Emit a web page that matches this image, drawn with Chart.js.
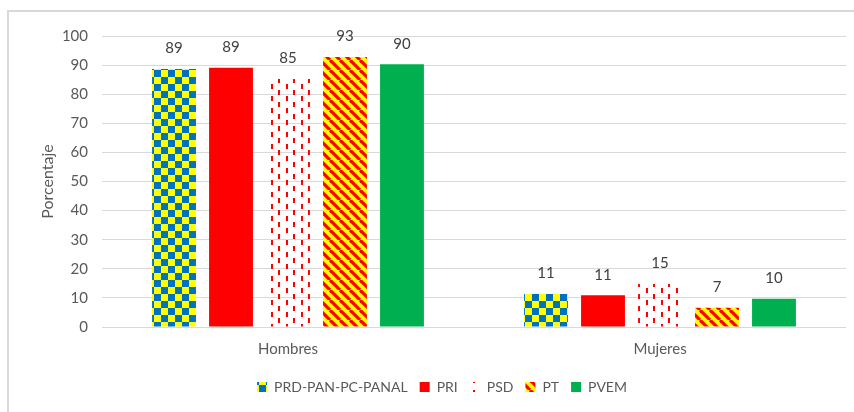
<!DOCTYPE html>
<html>
<head>
<meta charset="utf-8">
<script src="https://cdn.jsdelivr.net/npm/chart.js@4.4.1/dist/chart.umd.min.js"></script>
<style>
  html, body { margin: 0; padding: 0; background: #fff; }
  #wrap { position: relative; width: 854px; height: 412px; }
  #frame { position: absolute; left: 7px; top: 10px; right: -10px; bottom: -10px;
           border: 2px solid #d9d9d9; pointer-events: none; }
</style>
</head>
<body>
<div id="wrap">
  <canvas id="myChart" width="854" height="412"></canvas>
  <div id="frame"></div>
</div>
<script>
const categories = ["Hombres", "Mujeres"];
const parties = ["PRD-PAN-PC-PANAL", "PRI", "PSD", "PT", "PVEM"];
const prdPanPcPanal = [88.7, 11.3];
const pri = [89.1, 10.9];
const psd = [85.2, 14.8];
const pt = [92.8, 6.6];
const pvem = [90.3, 9.7];
const yTicks = [0, 10, 20, 30, 40, 50, 60, 70, 80, 90, 100];

const makeTile = (w, h, draw) => {
    const c = document.createElement("canvas");
    c.width = w;
    c.height = h;
    draw(c.getContext("2d"));
    return document.createElement("canvas").getContext("2d").createPattern(c, "repeat");
};

const checker = makeTile(14, 14, (ctx) => {
    ctx.fillStyle = "#FFFF00";
    ctx.fillRect(0, 0, 14, 14);
    ctx.fillStyle = "#0070C0";
    ctx.fillRect(0, 0, 7, 7);
    ctx.fillRect(7, 7, 7, 7);
});

const dashes = makeTile(15, 12, (ctx) => {
    ctx.fillStyle = "#FF0000";
    ctx.fillRect(1, 0, 2, 5);
    ctx.fillRect(8, 6, 2, 5);
});

const stripes = makeTile(10, 10, (ctx) => {
    ctx.fillStyle = "#FFFF00";
    ctx.fillRect(0, 0, 10, 10);
    ctx.strokeStyle = "#FF0000";
    ctx.lineWidth = 3.2;
    [-10, 0, 10].forEach((o) => {
        ctx.beginPath();
        ctx.moveTo(o, 0);
        ctx.lineTo(o + 10, 10);
        ctx.stroke();
    });
});

const fills = [checker, "#FF0000", dashes, stripes, "#00B050"];
const series = [prdPanPcPanal, pri, psd, pt, pvem];

const valueLabels = {
    id: "valueLabels",
    afterDatasetsDraw(chart) {
        const ctx = chart.ctx;
        ctx.save();
        ctx.font = "15px Lato";
        ctx.fillStyle = "#404040";
        ctx.textAlign = "center";
        ctx.textBaseline = "bottom";
        chart.data.datasets.forEach((ds, i) => {
            chart.getDatasetMeta(i).data.forEach((bar, j) => {
                ctx.fillText(Math.round(ds.data[j]), bar.x, bar.y - 13);
            });
        });
        ctx.restore();
    },
};

const data = {
    labels: categories,
    datasets: parties.map((p, i) => ({
        label: p,
        data: series[i],
        backgroundColor: fills[i],
        borderWidth: 0,
        categoryPercentage: 0.766,
        barPercentage: 0.77,
    })),
};

const config = {
    type: "bar",
    data: data,
    options: {
        responsive: false,
        animation: false,
        layout: { padding: { left: 38, top: 36, right: 8, bottom: 8 } },
        plugins: {
            legend: {
                position: "bottom",
                labels: {
                    boxWidth: 10,
                    boxHeight: 10,
                    padding: 12,
                    color: "#595959",
                    font: { family: "Lato", size: 14 },
                },
            },
            tooltip: { enabled: false },
        },
        scales: {
            x: {
                grid: { display: false },
                border: { display: false },
                ticks: { color: "#595959", font: { family: "Lato", size: 15 }, padding: 5 },
                afterFit: (scale) => {
                    scale.height += 5;
                },
            },
            y: {
                min: 0,
                max: 100,
                afterBuildTicks: (scale) => {
                    scale.ticks = yTicks.map((v) => ({ value: v }));
                },
                afterFit: (scale) => {
                    scale.width = 64;
                },
                grid: { color: "#d9d9d9", lineWidth: 1, drawTicks: false },
                border: { display: false },
                ticks: { color: "#595959", font: { family: "Lato", size: 15 }, padding: 14 },
                title: {
                    display: true,
                    text: "Porcentaje",
                    color: "#595959",
                    font: { family: "Lato", size: 16 },
                    padding: 0,
                },
            },
        },
    },
    plugins: [valueLabels],
};

const myChart = new Chart(document.getElementById("myChart"), config);
</script>
</body>
</html>
